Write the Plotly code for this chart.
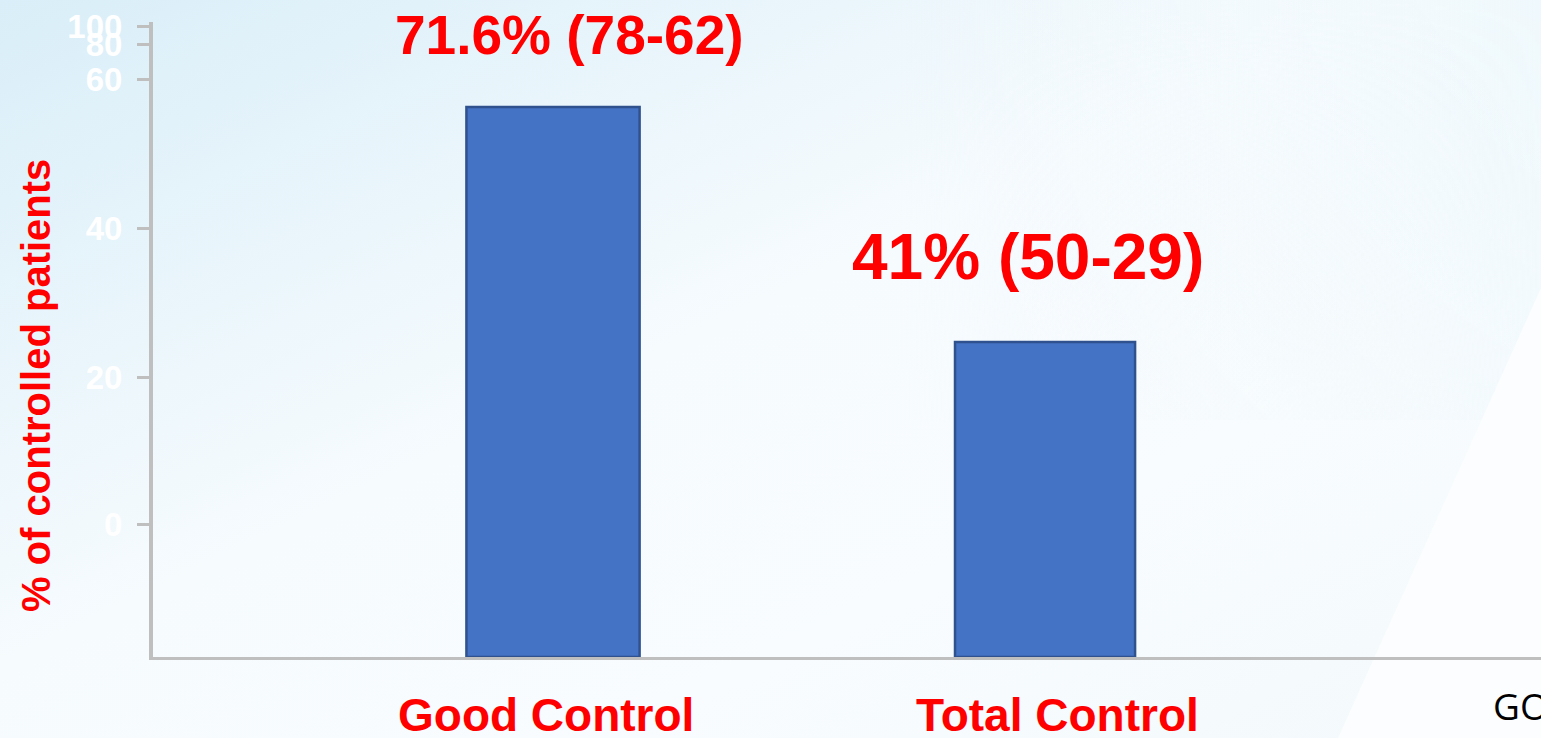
import base64
import plotly.graph_objects as go

# Share of controlled patients by level of control
categories = ["Good Control", "Total Control"]
values = [71.6, 41]
value_labels = ["71.6% (78-62)", "41% (50-29)"]
tick_labels = ["0", "20", "40", "60", "80", "100"]

W, H = 1541, 738
L, R, T, B = 153, 0, 22, 81
plot_w, plot_h = W - L - R, H - T - B

RED = "#FF0000"
BAR = "#4472C4"
BAR_EDGE = "#2F528F"
AXIS = "#BFBFBF"

# soft slide background with a pale diagonal panel on the right
svg = f"""<svg xmlns='http://www.w3.org/2000/svg' width='{W}' height='{H}' viewBox='0 0 {W} {H}'>
<defs>
<linearGradient id='g' x1='0' y1='0' x2='1' y2='1'>
<stop offset='0' stop-color='#D9EEF8'/>
<stop offset='0.45' stop-color='#F6FBFE'/>
<stop offset='0.7' stop-color='#F8FCFE'/>
<stop offset='1' stop-color='#F3F9FC'/>
</linearGradient>
<linearGradient id='h' x1='0' y1='0' x2='1' y2='0'>
<stop offset='0' stop-color='#F6FBFE' stop-opacity='0'/>
<stop offset='1' stop-color='#EFF8FC' stop-opacity='1'/>
</linearGradient>
<linearGradient id='v' x1='0' y1='0' x2='0' y2='1'>
<stop offset='0' stop-color='#FFFFFF' stop-opacity='1'/>
<stop offset='1' stop-color='#FFFFFF' stop-opacity='0'/>
</linearGradient>
<mask id='m'><rect width='{W}' height='{H}' fill='url(#v)'/></mask>
</defs>
<rect width='{W}' height='{H}' fill='url(#g)'/>
<rect x='900' y='0' width='641' height='420' fill='url(#h)' mask='url(#m)'/>
<polygon points='1541,288 1338,738 1541,738' fill='#FBFDFE'/>
</svg>"""
bg_src = "data:image/svg+xml;base64," + base64.b64encode(svg.encode()).decode()

fig = go.Figure()
fig.add_trace(go.Bar(
    x=[0, 1],
    y=values,
    width=[0.352, 0.366],
    marker=dict(color=BAR, line=dict(color=BAR_EDGE, width=2.5)),
    hoverinfo="skip",
))

# value labels above the bars
label_pos = [(569, 35, 55), (1028, 257, 64)]
for txt, (px, py, fs) in zip(value_labels, label_pos):
    fig.add_annotation(
        x=(px - L) / plot_w, y=1 - (py - T) / plot_h, xref="paper", yref="paper",
        text=f"<b>{txt}</b>", showarrow=False, xanchor="center", yanchor="middle",
        font=dict(family="Liberation Sans, Arial", size=fs, color=RED),
    )

# category labels under the axis
for cat, px in zip(categories, [546, 1057]):
    fig.add_annotation(
        x=(px - L) / plot_w, y=1 - (715 - T) / plot_h, xref="paper", yref="paper",
        text=f"<b>{cat}</b>", showarrow=False, xanchor="center", yanchor="middle",
        font=dict(family="Liberation Sans, Arial", size=46, color=RED),
    )

# source tag at the bottom right
fig.add_annotation(
    x=(1491 - L) / plot_w, y=1 - (705 - T) / plot_h, xref="paper", yref="paper",
    text="GO", showarrow=False, xanchor="left", yanchor="middle",
    font=dict(family="Open Sans, Noto Sans", size=37, color="#000000"),
)

# y title
fig.add_annotation(
    x=(36 - L) / plot_w, y=1 - (386 - T) / plot_h, xref="paper", yref="paper",
    text="<b>% of controlled patients</b>", showarrow=False, textangle=-90,
    xanchor="center", yanchor="middle",
    font=dict(family="Liberation Sans, Arial", size=40, color=RED),
)

y_top = 82.66
px_per_unit = plot_h / y_top
tick_px = [524, 377, 228, 79, 44, 26]
tick_vals = [(657 - p) / px_per_unit for p in tick_px]

fig.update_layout(
    width=W, height=H,
    margin=dict(l=L, r=R, t=T, b=B, pad=0),
    paper_bgcolor="#F4FAFD",
    plot_bgcolor="rgba(0,0,0,0)",
    showlegend=False,
    images=[dict(
        source=bg_src, xref="paper", yref="paper",
        x=-L / plot_w, y=1 + T / plot_h,
        sizex=W / plot_w, sizey=H / plot_h,
        xanchor="left", yanchor="top", sizing="stretch", layer="below",
    )],
    xaxis=dict(
        range=[-0.813, 2.008], showgrid=False, zeroline=False,
        showticklabels=False, ticks="",
        showline=True, linecolor=AXIS, linewidth=3,
        fixedrange=True,
    ),
    yaxis=dict(
        range=[0, y_top], showgrid=False, zeroline=False,
        showline=True, linecolor=AXIS, linewidth=4,
        tickmode="array", tickvals=tick_vals, ticktext=tick_labels,
        ticks="outside", ticklen=12, tickwidth=3, tickcolor=AXIS,
        ticklabelstandoff=8,
        tickfont=dict(family="Liberation Sans, Arial", size=33, color="#FFFFFF", weight="bold"),
        fixedrange=True,
    ),
)

fig.write_html("out.html")
